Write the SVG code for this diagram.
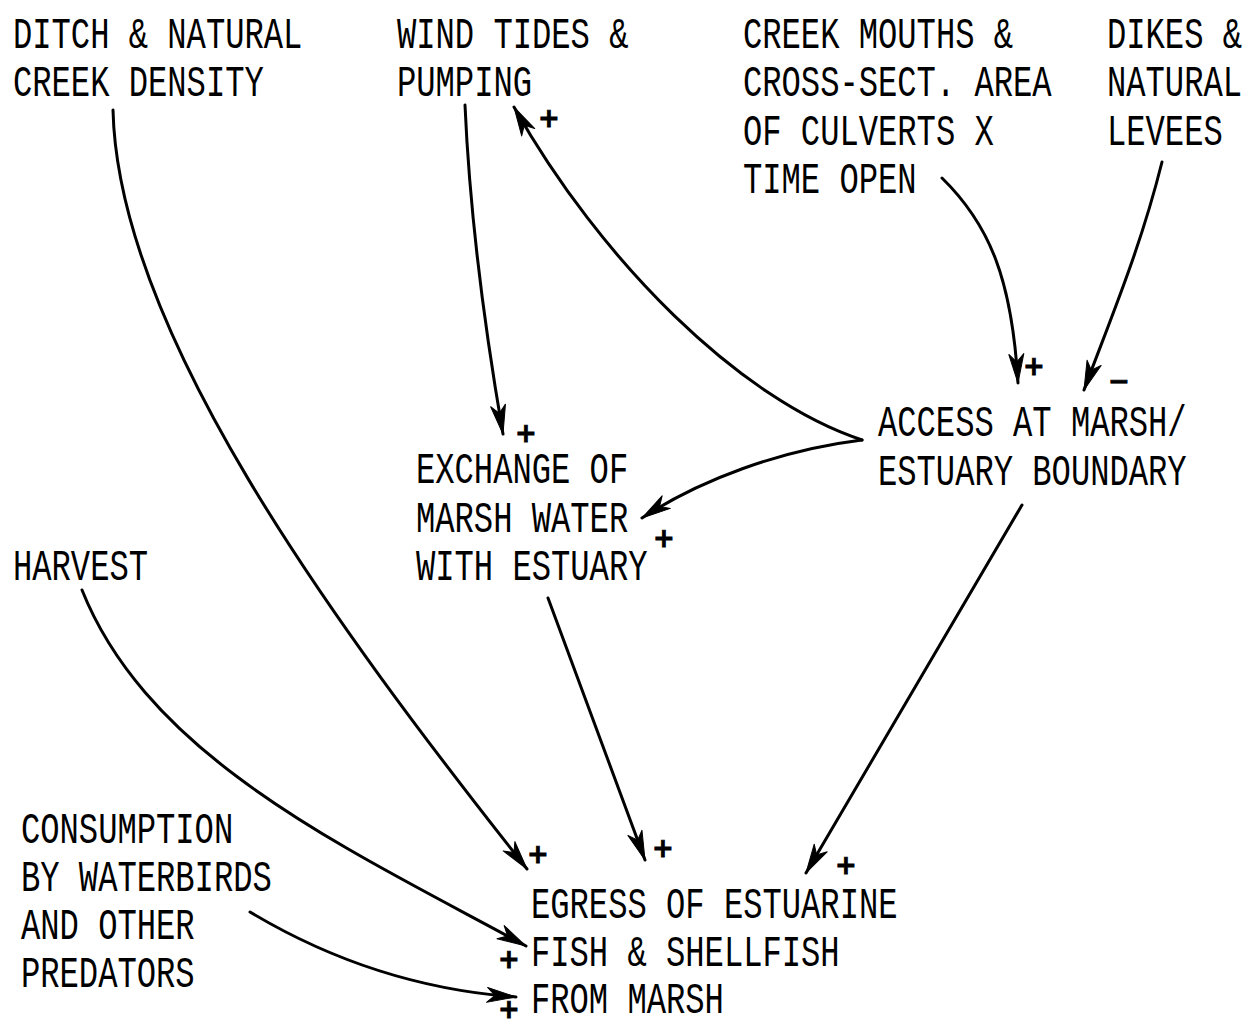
<svg xmlns="http://www.w3.org/2000/svg" width="1249" height="1019" viewBox="0 0 1249 1019">
  <style>
    .t { font-family: "Liberation Mono", "DejaVu Sans Mono", monospace; font-size: 44px; fill: #000; }
    .s { font-family: "DejaVu Sans", "Liberation Sans", sans-serif; font-size: 26px; font-weight: bold; fill: #000; stroke: #000; stroke-width: 0.8; }
    .c { fill: none; stroke: #000; stroke-width: 3; stroke-linecap: round; }
  </style>
  <defs>
    <marker id="ah" markerUnits="userSpaceOnUse" markerWidth="36" markerHeight="22" viewBox="-32 -11 36 22" refX="0" refY="0" orient="auto">
      <path d="M0,0 L-29,-7.5 L-21,0 L-29,7.5 Z" fill="#000" stroke="#000" stroke-width="1" stroke-linejoin="round"/>
    </marker>
  </defs>
  <rect width="1249" height="1019" fill="#fff"/>

  <!-- labels use a condensed monospace: 44px mono squeezed to ~19.3px per character -->
  <g id="ditch" transform="translate(13 0) scale(0.731 1)">
    <text class="t" x="0" y="48">DITCH &amp; NATURAL</text>
    <text class="t" x="0" y="96">CREEK DENSITY</text>
  </g>
  <g id="wind" transform="translate(397 0) scale(0.731 1)">
    <text class="t" x="0" y="48">WIND TIDES &amp;</text>
    <text class="t" x="0" y="96">PUMPING</text>
  </g>
  <g id="creek" transform="translate(743 0) scale(0.731 1)">
    <text class="t" x="0" y="48">CREEK MOUTHS &amp;</text>
    <text class="t" x="0" y="96">CROSS-SECT. AREA</text>
    <text class="t" x="0" y="145">OF CULVERTS X</text>
    <text class="t" x="0" y="193">TIME OPEN</text>
  </g>
  <g id="dikes" transform="translate(1107 0) scale(0.731 1)">
    <text class="t" x="0" y="48">DIKES &amp;</text>
    <text class="t" x="0" y="96">NATURAL</text>
    <text class="t" x="0" y="145">LEVEES</text>
  </g>
  <g id="access" transform="translate(878 0) scale(0.731 1)">
    <text class="t" x="0" y="436">ACCESS AT MARSH/</text>
    <text class="t" x="0" y="485">ESTUARY BOUNDARY</text>
  </g>
  <g id="exchange" transform="translate(416 0) scale(0.731 1)">
    <text class="t" x="0" y="483">EXCHANGE OF</text>
    <text class="t" x="0" y="532">MARSH WATER</text>
    <text class="t" x="0" y="580">WITH ESTUARY</text>
  </g>
  <g id="harvest" transform="translate(13 0) scale(0.731 1)">
    <text class="t" x="0" y="580">HARVEST</text>
  </g>
  <g id="consumption" transform="translate(21 0) scale(0.731 1)">
    <text class="t" x="0" y="843">CONSUMPTION</text>
    <text class="t" x="0" y="891">BY WATERBIRDS</text>
    <text class="t" x="0" y="939">AND OTHER</text>
    <text class="t" x="0" y="987">PREDATORS</text>
  </g>
  <g id="egress" transform="translate(531 0) scale(0.731 1)">
    <text class="t" x="0" y="918">EGRESS OF ESTUARINE</text>
    <text class="t" x="0" y="966">FISH &amp; SHELLFISH</text>
    <text class="t" x="0" y="1013">FROM MARSH</text>
  </g>

  <g id="connectors">
    <path class="c" marker-end="url(#ah)" d="M113,110 C118,330 330,620 527,869"/>
    <path class="c" marker-end="url(#ah)" d="M465,105 C470,220 485,330 503,434"/>
    <path class="c" marker-end="url(#ah)" d="M862,440 C740,400 600,260 514,107"/>
    <path class="c" marker-end="url(#ah)" d="M862,440 C780,450 700,480 642,518"/>
    <path class="c" marker-end="url(#ah)" d="M942,178 C990,225 1012,280 1018,383"/>
    <path class="c" marker-end="url(#ah)" d="M1162,162 C1140,250 1110,320 1084,390"/>
    <path class="c" marker-end="url(#ah)" d="M1022,505 L806,873"/>
    <path class="c" marker-end="url(#ah)" d="M548,598 L645,860"/>
    <path class="c" marker-end="url(#ah)" d="M82,590 C150,760 350,850 526,946"/>
    <path class="c" marker-end="url(#ah)" d="M250,912 C330,960 420,990 516,997"/>
  </g>

  <g id="signs">
    <text class="s" x="549" y="127" text-anchor="middle">+</text>
    <text class="s" x="526" y="442" text-anchor="middle">+</text>
    <text class="s" x="664" y="547" text-anchor="middle">+</text>
    <text class="s" x="1034" y="375" text-anchor="middle">+</text>
    <text class="s" x="1119" y="390" text-anchor="middle" font-size="30">−</text>
    <text class="s" x="538" y="863" text-anchor="middle">+</text>
    <text class="s" x="663" y="857" text-anchor="middle">+</text>
    <text class="s" x="846" y="874" text-anchor="middle">+</text>
    <text class="s" x="509" y="968" text-anchor="middle">+</text>
    <text class="s" x="509" y="1018" text-anchor="middle">+</text>
  </g>
</svg>
